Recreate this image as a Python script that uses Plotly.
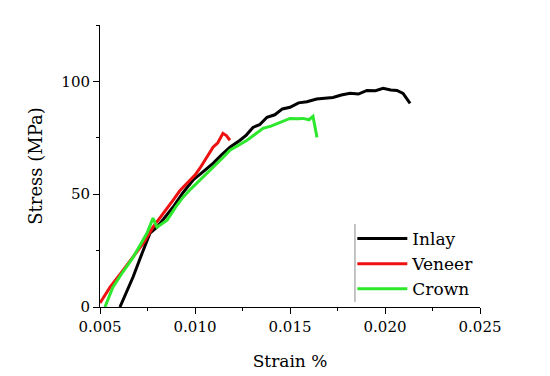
import plotly.graph_objects as go

inlay_x = [0.00605, 0.00640, 0.00674, 0.00720, 0.00763, 0.00800, 0.00840, 0.00884, 0.00935, 0.00989,
           0.01040, 0.01095, 0.01140, 0.01184, 0.01237, 0.01270, 0.01305, 0.01340, 0.01379, 0.01420,
           0.01460, 0.01500, 0.01545, 0.01589, 0.01640, 0.01690, 0.01726, 0.01770, 0.01816, 0.01860,
           0.01905, 0.01950, 0.01990, 0.02030, 0.02063, 0.02095, 0.02132]
inlay_y = [0.0, 6.5, 13.3, 23.5, 32.7, 35.4, 39.5, 44.2, 50.5, 56.2,
           59.8, 63.7, 67.5, 70.8, 73.9, 76.2, 79.6, 80.8, 84.1, 85.2,
           87.8, 88.5, 90.5, 91.0, 92.2, 92.6, 92.9, 94.0, 94.7, 94.4,
           96.0, 95.9, 96.9, 96.2, 96.0, 94.7, 90.3]

veneer_x = [0.00500, 0.00553, 0.00610, 0.00674, 0.00730, 0.00779, 0.00830, 0.00884, 0.00920, 0.00958,
            0.01000, 0.01026, 0.01060, 0.01095, 0.01120, 0.01147, 0.01165, 0.01184]
veneer_y = [1.8, 8.8, 15.0, 22.0, 28.5, 35.4, 41.0, 47.3, 51.5, 54.9,
            58.5, 61.5, 66.0, 70.8, 72.8, 77.0, 76.0, 73.9]

crown_x = [0.00526, 0.00568, 0.00620, 0.00674, 0.00747, 0.00779, 0.00800, 0.00853, 0.00900, 0.00937,
           0.00980, 0.01026, 0.01070, 0.01116, 0.01150, 0.01184, 0.01230, 0.01274, 0.01320, 0.01358,
           0.01400, 0.01432, 0.01470, 0.01500, 0.01540, 0.01568, 0.01600, 0.01621, 0.01642]
crown_y = [0.0, 8.8, 15.5, 22.0, 32.7, 39.4, 35.4, 38.5, 44.5, 48.7,
           52.5, 56.2, 60.0, 63.7, 66.5, 69.5, 71.8, 73.9, 76.8, 79.2,
           80.2, 81.4, 82.8, 83.6, 83.4, 83.6, 83.0, 84.5, 75.2]

series = [("Inlay", inlay_x, inlay_y, "#000000"),
          ("Veneer", veneer_x, veneer_y, "#ee1111"),
          ("Crown", crown_x, crown_y, "#2ee82e")]

fig = go.Figure()
for name, xs, ys, col in series:
    fig.add_trace(go.Scatter(x=xs, y=ys, mode="lines", name=name,
                             line=dict(color=col, width=3)))

font_family = "DejaVu Serif, Liberation Serif, serif"
axis_common = dict(showline=True, linecolor="black", linewidth=1, ticks="outside",
                   ticklen=6, tickcolor="black", showgrid=False, zeroline=False,
                   mirror=False, tickfont=dict(family=font_family, size=15, color="black"))

fig.update_xaxes(range=[0.005, 0.025], dtick=0.005, tick0=0.005, tickformat=".3f",
                 minor=dict(ticks="outside", ticklen=3, dtick=0.0025, tick0=0.005, tickcolor="black"),
                 title=dict(text="Strain %", font=dict(family=font_family, size=17, color="black"),
                            standoff=20),
                 **axis_common)
fig.update_yaxes(range=[0, 125], dtick=50, tick0=0,
                 minor=dict(ticks="outside", ticklen=3, dtick=25, tick0=0, tickcolor="black"),
                 title=dict(text="Stress (MPa)", font=dict(family=font_family, size=18, color="black"),
                            standoff=14),
                 **axis_common)

fig.add_shape(type="line", xref="paper", yref="paper", x0=0.671, x1=0.671, y0=0.018, y1=0.294,
              line=dict(color="#888888", width=1))

fig.update_layout(
    width=550, height=376,
    margin=dict(l=92, r=78, t=17, b=77),
    plot_bgcolor="white", paper_bgcolor="white",
    legend=dict(x=0.664, y=0.305, xanchor="left", yanchor="top",
                font=dict(family=font_family, size=17, color="black"),
                bgcolor="rgba(0,0,0,0)", tracegroupgap=0, itemwidth=50),
)

fig.write_html("out.html")
